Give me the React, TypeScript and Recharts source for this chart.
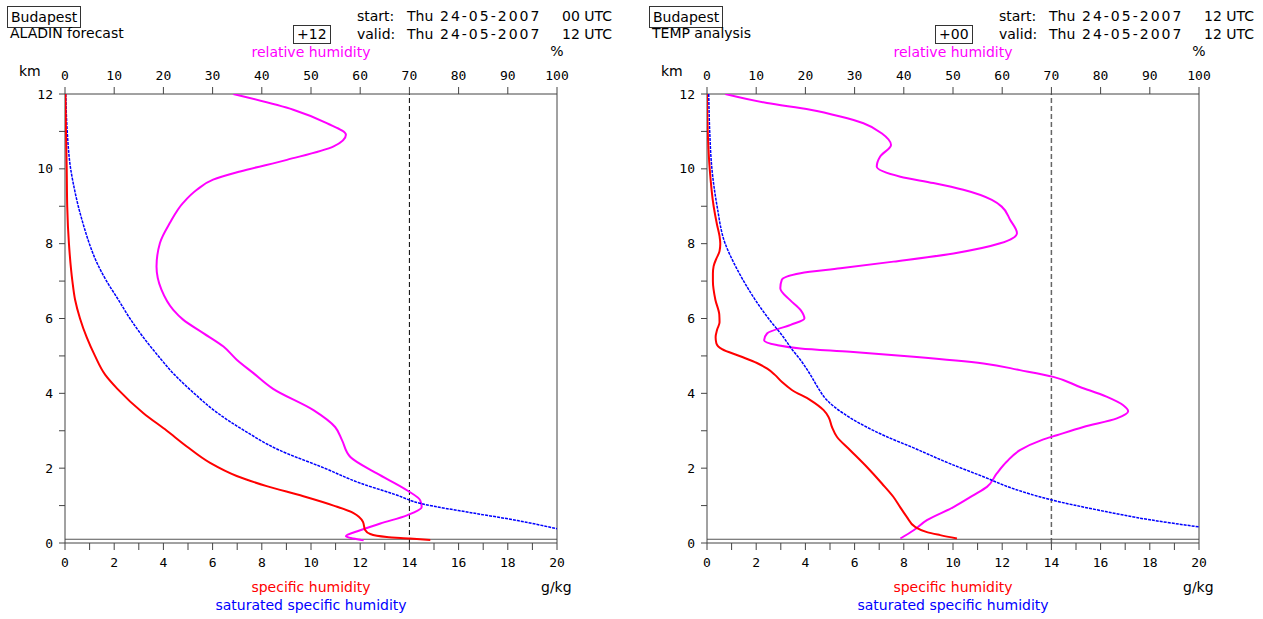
import { ScatterChart, Scatter, XAxis, YAxis, ReferenceLine } from "recharts";

// km levels and values, read top (12 km) to bottom
const aladinRhKm = [12, 11.58, 11.22, 10.91, 10.6, 10.24, 9.93, 9.71, 9.44, 9.09, 8.55, 8.02, 7.39, 6.77, 6.23, 5.97, 5.61, 5.25, 4.9, 4.54, 4.12, 3.55, 3.1, 2.75, 2.3, 1.86, 1.41, 1.14, 0.96, 0.74, 0.52, 0.34, 0.18, 0.12, 0.07];
const aladinRh = [34.2, 46.4, 53.2, 57.1, 54.6, 45.1, 35.6, 30.1, 26.8, 24.0, 21.3, 19.3, 18.6, 19.6, 22.0, 24.0, 28.1, 32.2, 34.9, 38.3, 42.3, 50.5, 54.9, 56.3, 58.0, 63.4, 69.5, 72.2, 72.5, 69.5, 64.1, 60.0, 57.1, 58.6, 60.7];

const aladinQKm = [12, 11, 10, 9, 8, 7, 6.5, 6, 5.5, 5, 4.5, 4.12, 3.47, 3, 2.58, 2.14, 1.79, 1.52, 1.25, 1.0, 0.8, 0.57, 0.35, 0.24, 0.16, 0.12, 0.08];
const aladinQ = [0.02, 0.04, 0.07, 0.09, 0.16, 0.3, 0.41, 0.61, 0.88, 1.22, 1.63, 2.13, 3.19, 4.14, 4.95, 5.9, 6.98, 8.2, 9.69, 10.92, 11.73, 12.11, 12.2, 12.41, 13.08, 14.03, 14.85];

const aladinQsKm = [12, 11, 10, 9.5, 9, 8.5, 8, 7.5, 7, 6.5, 6, 5.5, 5, 4.5, 4, 3.5, 3, 2.5, 2, 1.6, 1.3, 1.05, 0.8, 0.6, 0.38];
const aladinQs = [0.03, 0.09, 0.23, 0.37, 0.54, 0.75, 0.99, 1.29, 1.69, 2.17, 2.64, 3.18, 3.79, 4.45, 5.25, 6.15, 7.3, 8.65, 10.55, 12.0, 13.4, 14.5, 16.6, 18.4, 20];

const tempRhKm = [12, 11.76, 11.58, 11.4, 11.22, 10.95, 10.64, 10.33, 10.06, 9.79, 9.62, 9.44, 9.17, 8.99, 8.64, 8.28, 8.01, 7.74, 7.52, 7.34, 7.21, 7.03, 6.81, 6.49, 6.23, 6.0, 5.83, 5.6, 5.42, 5.29, 5.2, 5.11, 4.98, 4.8, 4.62, 4.44, 4.17, 3.91, 3.68, 3.52, 3.33, 3.1, 2.88, 2.75, 2.48, 2.17, 1.86, 1.5, 1.28, 0.96, 0.61, 0.34, 0.12];
const tempRh = [3.7, 12.2, 21.0, 27.1, 31.8, 35.5, 37.4, 35.2, 34.5, 39.3, 46.0, 52.1, 57.9, 59.9, 61.6, 63.0, 59.6, 50.1, 37.9, 27.1, 19.0, 15.2, 14.9, 16.9, 19.0, 19.8, 17.0, 12.2, 11.6, 14.2, 19.0, 29.1, 42.0, 56.2, 63.6, 70.4, 75.8, 81.2, 84.6, 85.6, 83.3, 76.5, 71.1, 68.0, 63.6, 60.9, 58.9, 56.9, 54.2, 50.1, 44.7, 42.0, 39.3];

const tempQKm = [12, 11, 10, 9, 8.5, 8.2, 8, 7.8, 7.6, 7.4, 7.2, 7, 6.5, 6.1, 5.9, 5.7, 5.5, 5.34, 5.18, 4.99, 4.81, 4.66, 4.5, 4.3, 4.09, 3.82, 3.55, 3.37, 3.1, 2.84, 2.48, 2.03, 1.59, 1.23, 0.96, 0.7, 0.43, 0.29, 0.21, 0.12];
const tempQ = [0.0, 0.03, 0.11, 0.27, 0.41, 0.51, 0.54, 0.51, 0.38, 0.27, 0.24, 0.24, 0.34, 0.5, 0.51, 0.41, 0.35, 0.38, 0.61, 1.35, 2.03, 2.45, 2.75, 3.05, 3.45, 4.2, 4.74, 4.94, 5.08, 5.28, 5.82, 6.5, 7.11, 7.58, 7.85, 8.12, 8.46, 8.94, 9.48, 10.16];

const tempQsKm = [12, 11, 10, 9, 8, 7.5, 7, 6.5, 6, 5.5, 5.18, 4.9, 4.5, 4.12, 3.82, 3.46, 3.19, 2.84, 2.57, 2.12, 1.77, 1.45, 1.16, 0.87, 0.62, 0.43];
const tempQs = [0.07, 0.11, 0.2, 0.41, 0.74, 1.08, 1.49, 1.96, 2.5, 3.11, 3.45, 3.79, 4.2, 4.54, 4.87, 5.55, 6.23, 7.31, 8.3, 9.88, 11.24, 12.46, 13.95, 15.98, 18.01, 20];

const kmTicks = [0, 1, 2, 3, 4, 5, 6, 7, 8, 9, 10, 11, 12];
const gkgTicks = [0, 1, 2, 3, 4, 5, 6, 7, 8, 9, 10, 11, 12, 13, 14, 15, 16, 17, 18, 19, 20];
const pctTicks = [0, 10, 20, 30, 40, 50, 60, 70, 80, 90, 100];

const zip = (km: number[], v: number[]) => km.map((k, i) => ({ km: k, v: v[i] }));

const AXIS = "#444";
const tickStyle = { fontSize: 13, fill: "#000", fontFamily: "DejaVu Sans Mono" };
const evenOnly = (v: number) => (v % 2 === 0 ? String(v) : "");
const noDot = () => <g />;

interface PanelProps {
  left: number;
  place: string;
  source: string;
  lead: string;
  day: string;
  date: string;
  startHour: string;
  validHour: string;
  rh: { km: number; v: number }[];
  q: { km: number; v: number }[];
  qs: { km: number; v: number }[];
  dashColor: string;
  dashWidth: number;
}

function Label({ x, y, color = "#000", children, anchor = "start", spacing = 0 }: any) {
  const tx = anchor === "middle" ? "translate(-50%,-50%)" : anchor === "end" ? "translate(-100%,-50%)" : "translate(0,-50%)";
  return (
    <div style={{ position: "absolute", left: x, top: y, transform: tx, color, fontSize: 14, whiteSpace: "pre", lineHeight: "16px", letterSpacing: spacing }}>
      {children}
    </div>
  );
}

function Panel(p: PanelProps) {
  return (
    <div style={{ position: "absolute", left: p.left, top: 0, width: 620, height: 619 }}>
      <div style={{ position: "absolute", left: 7, top: 6, height: 20, lineHeight: "20px", padding: "0 3px", border: "1px solid #333", fontSize: 14 }}>{p.place}</div>
      <Label x={10} y={33}>{p.source}</Label>
      <div style={{ position: "absolute", left: 293, top: 25, height: 17, lineHeight: "17px", padding: "0 3px", border: "1px solid #333", fontSize: 14 }}>{p.lead}</div>

      <Label x={357} y={16}>start:</Label>
      <Label x={407} y={16}>{p.day}</Label>
      <Label x={440} y={16} spacing={2}>{p.date}</Label>
      <Label x={612} y={16} anchor="end">{p.startHour + " UTC"}</Label>
      <Label x={357} y={34}>valid:</Label>
      <Label x={407} y={34}>{p.day}</Label>
      <Label x={440} y={34} spacing={2}>{p.date}</Label>
      <Label x={612} y={34} anchor="end">{p.validHour + " UTC"}</Label>

      <Label x={311} y={52} anchor="middle" color="#ff00ff">relative humidity</Label>
      <Label x={557} y={51} anchor="middle">%</Label>
      <Label x={19} y={71}>km</Label>
      <Label x={311} y={587} anchor="middle" color="#ff0000">specific humidity</Label>
      <Label x={311} y={605} anchor="middle" color="#0000ff">saturated specific humidity</Label>
      <Label x={541} y={587}>g/kg</Label>

      <ScatterChart width={620} height={619} margin={{ top: 64, right: 62, bottom: 46, left: 20 }}>
        <XAxis xAxisId="g" type="number" dataKey="v" domain={[0, 20]} ticks={gkgTicks} tickFormatter={evenOnly}
          orientation="bottom" height={30} allowDataOverflow interval={0}
          stroke={AXIS} tickSize={7} tickMargin={8} tick={tickStyle} />
        <XAxis xAxisId="p" type="number" dataKey="v" domain={[0, 100]} ticks={pctTicks}
          orientation="top" height={30} allowDataOverflow interval={0}
          stroke={AXIS} tickSize={7} tickMargin={7} tick={tickStyle} />
        <YAxis yAxisId="k" type="number" dataKey="km" domain={[0, 12]} ticks={kmTicks} tickFormatter={evenOnly}
          width={45} allowDataOverflow interval={0}
          stroke={AXIS} tickSize={6} tickMargin={6} tick={tickStyle} />
        <YAxis yAxisId="r" type="number" dataKey="km" domain={[0, 12]} orientation="right" width={1}
          tick={false} tickLine={false} stroke={AXIS} allowDataOverflow />
        <ReferenceLine xAxisId="g" yAxisId="k" x={14} stroke={p.dashColor} strokeWidth={p.dashWidth} strokeDasharray="5 3" />
        <ReferenceLine xAxisId="g" yAxisId="k" y={0.1} stroke="#555" strokeWidth={1} />
        <Scatter xAxisId="p" yAxisId="k" data={p.rh} fill="#ff00ff" shape={noDot}
          line={{ stroke: "#ff00ff", strokeWidth: 2 }} lineJointType="monotoneY" isAnimationActive={false} />
        <Scatter xAxisId="g" yAxisId="k" data={p.qs} fill="#0000ff" shape={noDot}
          line={{ stroke: "#0000ff", strokeWidth: 1.5, strokeDasharray: "3 1" }} lineJointType="monotoneY" isAnimationActive={false} />
        <Scatter xAxisId="g" yAxisId="k" data={p.q} fill="#ff0000" shape={noDot}
          line={{ stroke: "#ff0000", strokeWidth: 2 }} lineJointType="monotoneY" isAnimationActive={false} />
      </ScatterChart>
    </div>
  );
}

export default function App() {
  return (
    <div style={{ position: "absolute", left: 0, top: 0, width: 1263, height: 619, background: "#fff", fontFamily: "DejaVu Sans", overflow: "hidden" }}>
      <Panel left={0} place="Budapest" source="ALADIN forecast" lead="+12"
        day="Thu" date="24-05-2007" startHour="00" validHour="12"
        rh={zip(aladinRhKm, aladinRh)} q={zip(aladinQKm, aladinQ)} qs={zip(aladinQsKm, aladinQs)}
        dashColor="#000" dashWidth={1} />
      <Panel left={642} place="Budapest" source="TEMP analysis" lead="+00"
        day="Thu" date="24-05-2007" startHour="12" validHour="12"
        rh={zip(tempRhKm, tempRh)} q={zip(tempQKm, tempQ)} qs={zip(tempQsKm, tempQs)}
        dashColor="#666" dashWidth={1.5} />
    </div>
  );
}
